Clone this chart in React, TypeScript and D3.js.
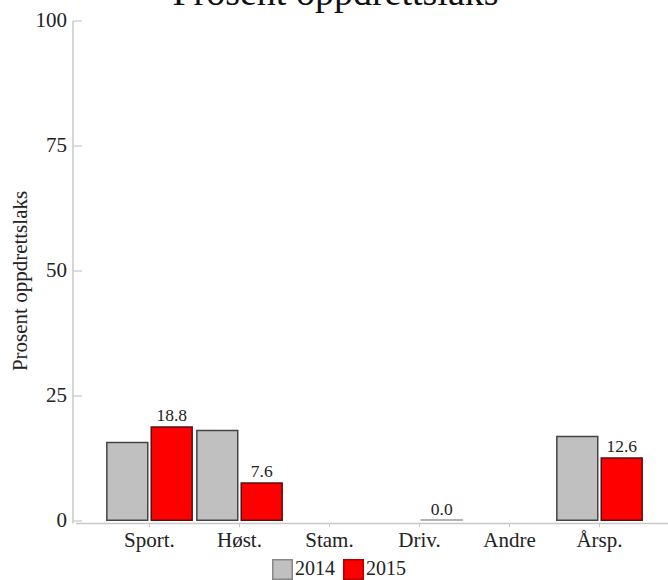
import React from "react";
import * as d3 from "d3";

const categories = ["Sport.", "Høst.", "Stam.", "Driv.", "Andre", "Årsp."];
const seriesNames = ["2014", "2015"];
const values2014: (number | null)[] = [15.7, 18.1, null, null, null, 16.9];
const values2015: (number | null)[] = [18.8, 7.6, null, 0.0, null, 12.6];
const yTicks = [0, 25, 50, 75, 100];
const title = "Prosent oppdrettslaks";
const yTitle = "Prosent oppdrettslaks";

const W = 668;
const H = 580;
const FONT = "'Liberation Serif', serif";
const fills = ["#c0c0c0", "#ff0000"];
const strokes = ["#444444", "#5a1010"];

export default function App() {
  const y = d3.scaleLinear().domain([0, 100]).range([521, 21]);
  const x = d3
    .scaleBand<string>()
    .domain(categories)
    .range([104.5, 644.5])
    .paddingInner(0.035)
    .paddingOuter(0.0175);
  const xi = d3
    .scaleBand<string>()
    .domain(seriesNames)
    .range([0, x.bandwidth()])
    .paddingInner(0.045);
  const series = [values2014, values2015];
  const axisX = 73;

  return (
    <svg
      width={W}
      height={H}
      style={{ position: "absolute", left: 0, top: 0, background: "#fff" }}
      fontFamily={FONT}
    >
      <text x={335.5} y={5} textAnchor="middle" fontSize={38} fill="#111">
        {title}
      </text>
      {/* y axis */}
      <line x1={axisX} x2={axisX} y1={y(100)} y2={523.5} stroke="#c8c8c8" strokeWidth={1.5} />
      {yTicks.map((t) => (
        <g key={t}>
          <line x1={axisX} x2={axisX + 9} y1={y(t)} y2={y(t)} stroke="#c8c8c8" strokeWidth={1.2} />
          <text x={67} y={y(t)} dy="0.3em" textAnchor="end" fontSize={21} fill="#222">
            {t}
          </text>
        </g>
      ))}
      <text
        transform={`translate(27,281) rotate(-90)`}
        textAnchor="middle"
        fontSize={21}
        fill="#222"
      >
        {yTitle}
      </text>
      {/* x axis */}
      <line x1={axisX + 3} x2={W} y1={523.5} y2={523.5} stroke="#c8c8c8" strokeWidth={1.5} />
      {categories.map((c) => {
        const cx = (x(c) as number) + x.bandwidth() / 2;
        return (
          <g key={c}>
            <line x1={cx} x2={cx} y1={523.5} y2={527} stroke="#c8c8c8" strokeWidth={1} />
            <text x={cx} y={546.5} textAnchor="middle" fontSize={21} fill="#222">
              {c}
            </text>
          </g>
        );
      })}
      {/* bars */}
      {series.map((vals, si) =>
        vals.map((v, ci) => {
          if (v === null) return null;
          const bx = (x(categories[ci]) as number) + (xi(seriesNames[si]) as number);
          const bw = xi.bandwidth();
          const top = y(v);
          const h = y(0) - top;
          return (
            <g key={`${si}-${ci}`}>
              {h > 0.5 ? (
                <rect
                  x={bx + 0.75}
                  y={top}
                  width={bw - 1.5}
                  height={h - 0.75}
                  fill={fills[si]}
                  stroke={strokes[si]}
                  strokeWidth={1.5}
                />
              ) : (
                <line x1={bx} x2={bx + bw} y1={y(0) - 1} y2={y(0) - 1} stroke="#9a9a9a" strokeWidth={1.5} />
              )}
              {si === 1 && (
                <text x={bx + bw / 2} y={top - 6.5} textAnchor="middle" fontSize={17.5} fill="#222">
                  {d3.format(".1f")(v)}
                </text>
              )}
            </g>
          );
        })
      )}
      {/* legend */}
      {seriesNames.map((s, i) => {
        const lx = i === 0 ? 272 : 343;
        return (
          <g key={s}>
            <rect
              x={lx + 0.75}
              y={559.75}
              width={19.5}
              height={19.5}
              fill={fills[i]}
              stroke={i === 0 ? "#888" : "#b00000"}
              strokeWidth={1.5}
            />
            <text x={lx + 23} y={575} fontSize={20} fill="#222">
              {s}
            </text>
          </g>
        );
      })}
    </svg>
  );
}
